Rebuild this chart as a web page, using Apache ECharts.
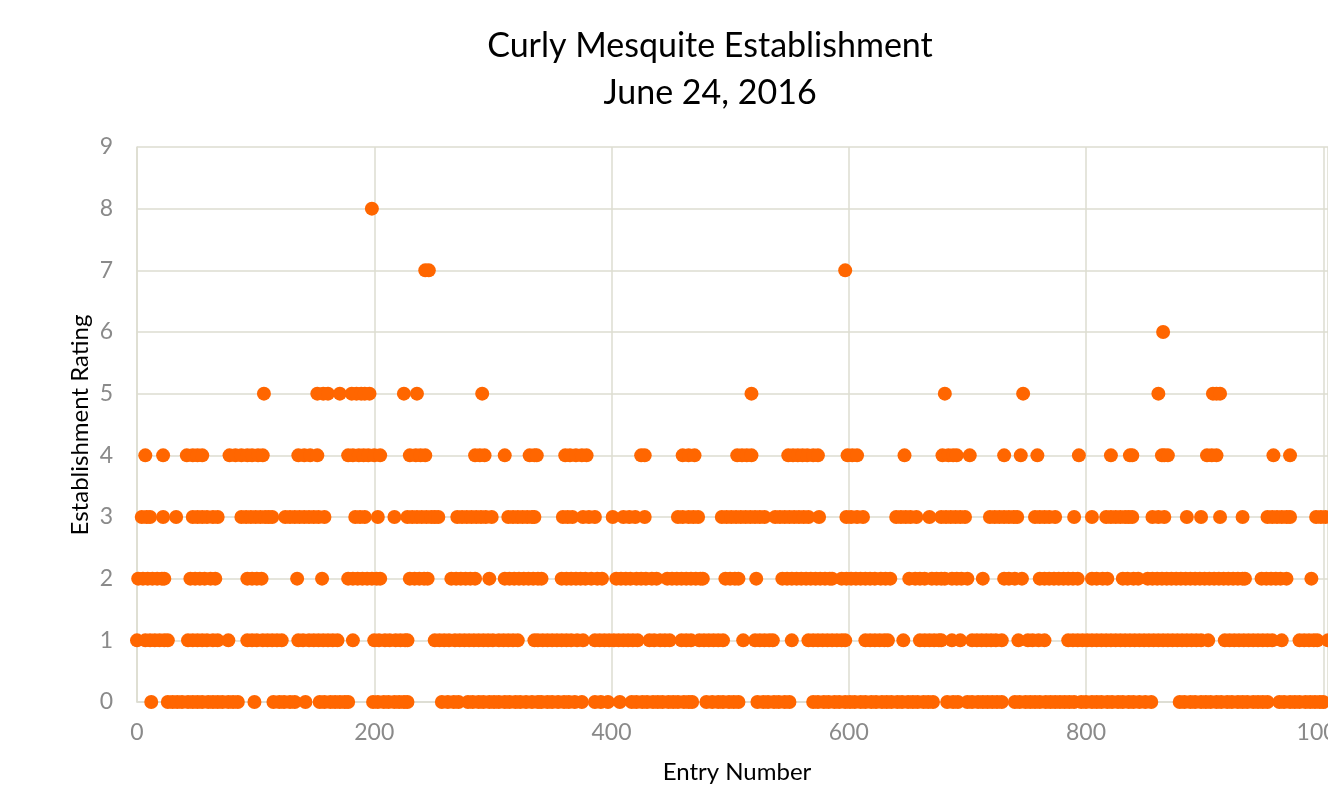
<!DOCTYPE html>
<html>
<head>
<meta charset="utf-8">
<title>Curly Mesquite Establishment</title>
<script src="https://cdn.jsdelivr.net/npm/echarts@6/dist/echarts.min.js"></script>
<style>
	html,body{margin:0;padding:0;background:#fff;}
	#chart{width:1328px;height:795px;}
</style>
</head>
<body>
<div id="chart"></div>
<script>
// entry numbers per establishment rating
var rating0 = [12,26,30,34,38,43,47,51,55,60,64,68,72,77,81,85,99,115,120,124,129,133,142,154,158,163,167,171,175,178,
	199,203,208,212,217,221,225,228,257,262,267,271,279,283,288,292,297,301,305,310,314,319,323,328,333,338,341,346,350,355,
	360,364,369,375,386,391,397,407,417,421,426,430,435,439,443,448,452,456,461,465,468,480,485,490,494,499,503,507,523,528,
	532,537,541,546,550,570,574,579,583,588,592,597,601,605,610,614,619,623,628,632,636,641,645,650,654,658,663,667,671,683,
	688,692,700,704,709,713,717,721,725,729,740,744,749,753,757,761,766,770,774,778,782,786,790,796,800,805,809,813,818,822,
	827,831,836,840,845,850,855,879,883,888,892,897,901,905,910,914,919,923,928,932,936,941,945,949,953,963,967,972,976,980,
	985,989,993,997,1000];
var rating1 = [0,7,11,15,19,23,26,43,47,51,55,59,64,68,77,93,97,101,106,110,114,118,122,136,140,145,149,153,157,161,165,169,
	182,200,204,209,213,218,222,226,228,251,255,259,263,268,272,276,280,284,288,292,296,300,305,309,313,317,321,335,338,342,
	346,350,354,358,362,366,371,376,386,390,394,398,402,406,410,414,418,422,432,436,441,445,449,459,463,467,474,478,482,486,
	490,494,511,521,525,529,533,536,552,566,570,574,578,582,586,590,594,597,614,618,622,626,630,633,646,660,664,668,672,676,
	678,687,694,704,708,712,716,720,724,729,743,751,755,760,765,785,789,793,797,801,805,809,813,817,821,825,829,833,837,841,
	845,849,853,857,861,865,869,873,877,881,885,889,893,897,903,917,921,925,929,933,937,941,945,949,953,957,965,980,984,988,
	992,995,1004];
var rating2 = [1,5,9,13,17,21,23,45,49,53,57,62,66,93,97,101,105,135,156,178,182,186,190,194,198,202,205,230,234,238,242,245,
	265,269,273,277,281,285,297,310,314,318,322,326,330,334,338,341,358,362,366,370,374,378,383,388,392,404,408,412,416,421,
	425,429,434,438,447,451,455,459,463,467,471,475,477,496,500,504,507,522,544,548,552,556,560,564,568,572,576,580,584,586,
	594,598,602,606,610,614,618,622,627,631,635,651,656,660,664,670,674,678,681,687,691,695,700,713,731,735,740,746,761,765,
	769,773,777,781,785,789,793,805,809,814,818,831,835,840,844,852,856,860,864,868,872,876,880,884,888,892,896,900,904,908,
	912,916,920,924,928,932,934,948,952,956,960,964,969,990];
var rating3 = [4,8,11,22,33,47,51,55,59,64,68,88,92,96,100,104,108,111,114,125,129,133,137,141,145,149,153,158,184,188,192,
	203,217,228,232,236,240,244,248,251,254,270,274,278,282,286,290,294,299,313,317,321,325,329,333,335,359,363,367,376,381,
	386,401,410,415,420,428,456,460,465,469,473,493,497,501,505,509,513,517,521,525,529,538,542,546,550,554,558,562,566,575,
	598,602,607,612,640,644,648,652,657,668,678,682,686,690,694,698,719,723,727,731,735,739,742,757,761,765,769,774,790,805,
	817,821,825,829,833,836,839,856,861,866,885,897,913,932,953,957,961,965,969,972,994,998,1002];
var rating4 = [7,22,42,47,51,55,78,83,88,93,97,102,106,136,141,146,152,178,182,187,191,195,200,205,230,235,239,243,285,289,
	293,310,331,335,337,361,365,370,375,379,425,428,460,465,470,506,510,514,518,549,553,557,561,565,570,574,599,603,607,647,
	679,684,688,691,702,731,745,759,794,821,837,839,864,866,869,902,906,910,958,972];
var rating5 = [107,152,157,161,171,181,185,189,192,196,225,236,291,518,681,747,861,907,910,913];
var rating6 = [865];
var rating7 = [243,246,597];
var rating8 = [198];

var ratingRows = [rating0,rating1,rating2,rating3,rating4,rating5,rating6,rating7,rating8];
// the source picture is cropped a little past 1000 on the right
var xTicks = {min:0,max:1004,interval:200};
var yTicks = {min:0,max:9,interval:1};

function buildPoints(){
	var pts = [];
	ratingRows.forEach(function(row,rating){
		row.forEach(function(entry){
			pts.push([entry,rating]);
		});
	});
	return pts;
}

var gridColor = '#dcdcd1';
var labelColor = '#8a8a8a';
var fontName = 'Lato, "Open Sans", sans-serif';

var dom = document.getElementById("chart");
var myChart = echarts.init(dom);
var option = {
	backgroundColor:'#ffffff',
	animation:false,
	grid:{left:137,top:147,right:0,bottom:93,containLabel:false,outerBoundsMode:'none'},
	graphic:[
		{type:'text',x:710,y:46,style:{text:'Curly Mesquite Establishment',fill:'#000',font:'34px '+fontName,textAlign:'center',textVerticalAlign:'middle'}},
		{type:'text',x:710,y:93,style:{text:'June 24, 2016',fill:'#000',font:'34px '+fontName,textAlign:'center',textVerticalAlign:'middle'}},
		{type:'text',x:737,y:772,style:{text:'Entry Number',fill:'#000',font:'24px '+fontName,textAlign:'center',textVerticalAlign:'middle'}},
		{type:'text',x:80,y:425,rotation:Math.PI/2,style:{text:'Establishment Rating',fill:'#000',font:'24px '+fontName,textAlign:'center',textVerticalAlign:'middle'}}
	],
	xAxis:{
		type:'value',
		min:xTicks.min,max:xTicks.max,interval:xTicks.interval,
		axisLine:{show:true,lineStyle:{color:gridColor,width:1.5}},
		axisTick:{show:false},
		axisLabel:{color:labelColor,fontSize:23,fontFamily:fontName,margin:19,showMaxLabel:false,
			formatter:function(v){return v%200===0?String(v):'';}},
		splitLine:{show:true,lineStyle:{color:gridColor,width:1.5}}
	},
	yAxis:{
		type:'value',
		min:yTicks.min,max:yTicks.max,interval:yTicks.interval,
		axisLine:{show:true,lineStyle:{color:gridColor,width:1.5}},
		axisTick:{show:false},
		axisLabel:{color:labelColor,fontSize:23,fontFamily:fontName,margin:24},
		splitLine:{show:true,lineStyle:{color:gridColor,width:1.5}}
	},
	series:[{
		name:'Establishment Rating',
		type:'scatter',
		symbol:'circle',
		symbolSize:14,
		clip:false,
		itemStyle:{color:'#ff6600',opacity:1},
		data:buildPoints()
	}]
};
myChart.setOption(option,true);
</script>
</body>
</html>
